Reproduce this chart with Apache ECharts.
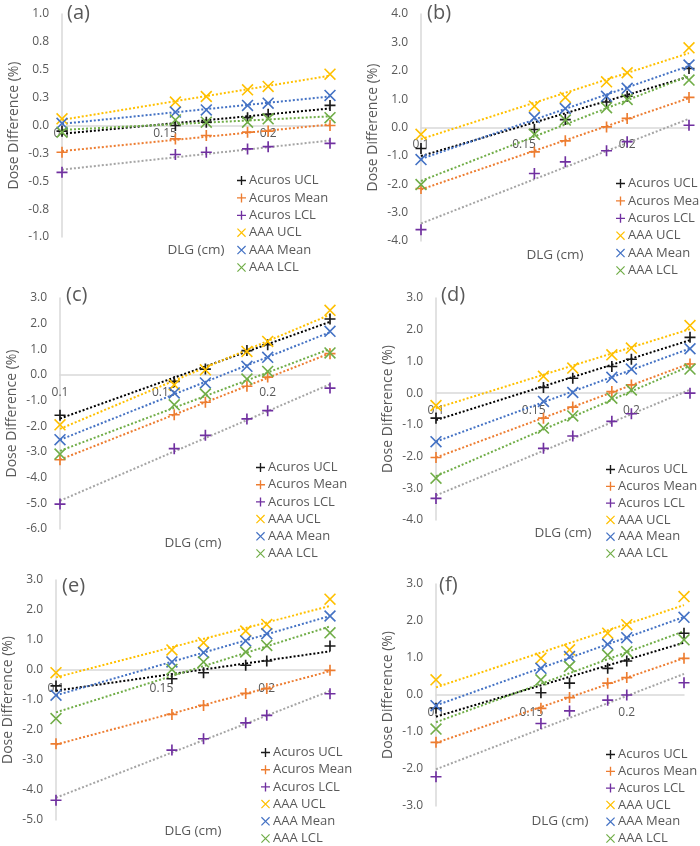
<!DOCTYPE html>
<html><head><meta charset="utf-8">
<script src="https://cdn.jsdelivr.net/npm/echarts@6/dist/echarts.min.js"></script>
<style>html,body{margin:0;padding:0;background:#fff}#c{width:700px;height:846px}</style>
</head><body><div id="c"></div>
<script>
// ---- data ----
const xDLG = [0.1, 0.155, 0.17, 0.19, 0.2, 0.23];
const xTicks = [0.1, 0.15, 0.2];
const seriesNames = ['Acuros UCL', 'Acuros Mean', 'Acuros LCL', 'AAA UCL', 'AAA Mean', 'AAA LCL'];
const panelLabels = ['(a)', '(b)', '(c)', '(d)', '(e)', '(f)'];
const yTitle = 'Dose Difference (%)';
const xTitle = 'DLG (cm)';

const aAcurosUCL  = [-0.05, 0.00, 0.03, 0.07, 0.10, 0.18];
const aAcurosMean = [-0.24, -0.12, -0.09, -0.06, -0.05, 0.00];
const aAcurosLCL  = [-0.42, -0.26, -0.24, -0.21, -0.19, -0.16];
const aAAAUCL     = [0.06, 0.21, 0.26, 0.32, 0.35, 0.46];
const aAAAMean    = [0.02, 0.12, 0.14, 0.18, 0.20, 0.27];
const aAAALCL     = [-0.06, 0.05, 0.03, 0.03, 0.06, 0.07];

const bAcurosUCL  = [-0.74, -0.07, 0.28, 0.90, 1.10, 2.08];
const bAcurosMean = [-2.15, -0.86, -0.47, 0.02, 0.32, 1.06];
const bAcurosLCL  = [-3.60, -1.62, -1.21, -0.82, -0.50, 0.08];
const bAAAUCL     = [-0.24, 0.75, 1.06, 1.61, 1.93, 2.81];
const bAAAMean    = [-1.13, 0.35, 0.67, 1.10, 1.38, 2.20];
const bAAALCL     = [-2.01, -0.24, 0.26, 0.70, 0.99, 1.67];

const cAcurosUCL  = [-1.57, -0.25, 0.23, 0.95, 1.18, 2.18];
const cAcurosMean = [-3.30, -1.55, -1.06, -0.44, -0.08, 0.83];
const cAcurosLCL  = [-5.03, -2.87, -2.35, -1.71, -1.39, -0.51];
const cAAAUCL     = [-1.94, -0.38, 0.20, 0.92, 1.31, 2.52];
const cAAAMean    = [-2.52, -0.70, -0.31, 0.34, 0.69, 1.70];
const cAAALCL     = [-3.08, -1.16, -0.74, -0.16, 0.14, 0.86];

const dAcurosUCL  = [-0.79, 0.18, 0.47, 0.84, 1.07, 1.76];
const dAcurosMean = [-2.03, -0.79, -0.44, 0.05, 0.26, 0.92];
const dAcurosLCL  = [-3.32, -1.74, -1.35, -0.89, -0.65, 0.00];
const dAAAUCL     = [-0.39, 0.53, 0.79, 1.21, 1.42, 2.13];
const dAAAMean    = [-1.53, -0.26, 0.02, 0.50, 0.76, 1.40];
const dAAALCL     = [-2.68, -1.10, -0.72, -0.16, 0.10, 0.76];

const eAcurosUCL  = [-0.53, -0.29, -0.09, 0.16, 0.30, 0.80];
const eAcurosMean = [-2.46, -1.48, -1.18, -0.78, -0.62, -0.01];
const eAcurosLCL  = [-4.34, -2.67, -2.29, -1.76, -1.51, -0.79];
const eAAAUCL     = [-0.09, 0.67, 0.91, 1.30, 1.52, 2.36];
const eAAAMean    = [-0.84, 0.27, 0.58, 0.97, 1.21, 1.80];
const eAAALCL     = [-1.62, 0.02, 0.27, 0.60, 0.82, 1.24];

const fAcurosUCL  = [-0.36, 0.06, 0.32, 0.72, 0.92, 1.67];
const fAcurosMean = [-1.28, -0.36, -0.07, 0.32, 0.47, 0.99];
const fAcurosLCL  = [-2.21, -0.77, -0.43, -0.14, 0.00, 0.33];
const fAAAUCL     = [0.41, 0.99, 1.22, 1.67, 1.90, 2.66];
const fAAAMean    = [-0.29, 0.72, 1.04, 1.37, 1.55, 2.10];
const fAAALCL     = [-0.92, 0.41, 0.77, 1.08, 1.17, 1.49];

// y-axis ranges per panel [min, max, interval]
const yRangeA = [-1, 1, 0.25];
const yRangeB = [-4, 4, 1];
const yRangeC = [-6, 3, 1];
const yRangeD = [-4, 3, 1];
const yRangeE = [-5, 3, 1];
const yRangeF = [-3, 3, 1];
const xMin = 0.1, xMax = 0.23, xInterval = 0.05;

// ---- assembly ----
const panelData = [
  [aAcurosUCL, aAcurosMean, aAcurosLCL, aAAAUCL, aAAAMean, aAAALCL],
  [bAcurosUCL, bAcurosMean, bAcurosLCL, bAAAUCL, bAAAMean, bAAALCL],
  [cAcurosUCL, cAcurosMean, cAcurosLCL, cAAAUCL, cAAAMean, cAAALCL],
  [dAcurosUCL, dAcurosMean, dAcurosLCL, dAAAUCL, dAAAMean, dAAALCL],
  [eAcurosUCL, eAcurosMean, eAcurosLCL, eAAAUCL, eAAAMean, eAAALCL],
  [fAcurosUCL, fAcurosMean, fAcurosLCL, fAAAUCL, fAAAMean, fAAALCL]
];
const yRanges = [yRangeA, yRangeB, yRangeC, yRangeD, yRangeE, yRangeF];

// layout (pixels)
const grids = [
  {left: 62,  top: 14,  width: 268, height: 223},
  {left: 421, top: 14,  width: 268, height: 227},
  {left: 60,  top: 298, width: 270, height: 231},
  {left: 436, top: 298, width: 254, height: 222},
  {left: 56,  top: 580, width: 274, height: 240},
  {left: 436, top: 584, width: 248, height: 222}
];
const titlePos = [[67, 3], [427, 3], [66, 285], [441, 285], [62, 576], [439, 575]];
const xTitlePos = [[196, 250], [555, 255], [193, 543], [563, 533], [193, 831], [560, 821]];
const legendPos = [[237, 174], [616, 177], [256, 461], [606, 463], [261, 746], [606, 748]];
const legendGaps = [4.4, 4.4, 4.2, 3.8, 4.2, 3.8];
const xLabelMargins = [2, 11, 12, 11, 13, 12];

const FONT = '"Open Sans", sans-serif';
const TXT = '#595959';
const AX = '#D9D9D9';
const markerColors = ['#1a1a1a', '#ED7D31', '#7030A0', '#FFC000', '#4472C4', '#70AD47'];
const trendColors  = ['#000000', '#ED7D31', '#A5A5A5', '#FFC000', '#4472C4', '#70AD47'];
const PLUS = 'path://M8.5,0 H11.5 V8.5 H20 V11.5 H11.5 V20 H8.5 V11.5 H0 V8.5 H8.5 Z';
const e = 1.9;
const CROSS = 'path://M0,' + e + ' L' + e + ',0 L20,' + (20 - e) + ' L' + (20 - e) + ',20 Z ' +
              'M' + (20 - e) + ',0 L20,' + e + ' L' + e + ',20 L0,' + (20 - e) + ' Z';

function regression(xs, ys) {
  const n = xs.length;
  let sx = 0, sy = 0, sxx = 0, sxy = 0;
  for (let i = 0; i < n; i++) { sx += xs[i]; sy += ys[i]; sxx += xs[i] * xs[i]; sxy += xs[i] * ys[i]; }
  const b = (n * sxy - sx * sy) / (n * sxx - sx * sx);
  const a = (sy - b * sx) / n;
  return [[xMin, a + b * xMin], [xMax, a + b * xMax]];
}

const option = {
  animation: false,
  backgroundColor: '#fff',
  title: [], grid: [], xAxis: [], yAxis: [], legend: [], series: [], graphic: []
};

panelData.forEach((sets, p) => {
  const g = grids[p];
  const yr = yRanges[p];
  // place the horizontal axis (line + labels) where y = 0 crosses
  const zeroOffset = -g.height * (0 - yr[0]) / (yr[1] - yr[0]);
  option.grid.push({left: g.left, top: g.top, width: g.width, height: g.height, containLabel: false});
  option.title.push({
    text: panelLabels[p], left: titlePos[p][0], top: titlePos[p][1], padding: 0,
    textStyle: {fontFamily: FONT, fontSize: 20, fontWeight: 'normal', color: TXT}
  });
  option.xAxis.push({
    type: 'value', gridIndex: p, min: xMin, max: xMax, interval: xInterval,
    position: 'bottom', offset: zeroOffset,
    axisLine: {onZero: false, lineStyle: {color: AX, width: 1.5}},
    axisTick: {show: false}, splitLine: {show: false},
    axisLabel: {
      color: TXT, fontFamily: FONT, fontSize: 12, margin: xLabelMargins[p], showMaxLabel: false,
      formatter: v => { const t = xTicks.find(k => Math.abs(k - v) < 1e-6); return t === undefined ? '' : String(t); }
    }
  });
  option.yAxis.push({
    type: 'value', gridIndex: p, min: yr[0], max: yr[1], interval: yr[2],
    name: yTitle, nameLocation: 'middle', nameGap: 41,
    nameTextStyle: {color: TXT, fontFamily: FONT, fontSize: 14},
    axisLine: {show: true, onZero: false, lineStyle: {color: AX, width: 1.5}},
    axisTick: {show: false}, splitLine: {show: false},
    axisLabel: {color: TXT, fontFamily: FONT, fontSize: 12, margin: 13, formatter: v => v.toFixed(1)}
  });
  option.legend.push({
    data: seriesNames, orient: 'vertical', left: legendPos[p][0], top: legendPos[p][1],
    height: 110, padding: 0, itemGap: legendGaps[p], itemWidth: 9, itemHeight: 9, selectedMode: false,
    textStyle: {color: TXT, fontFamily: FONT, fontSize: 13, padding: [0, 0, 0, -2]}
  });
  option.graphic.push({
    type: 'text', x: xTitlePos[p][0], y: xTitlePos[p][1], silent: true,
    style: {text: xTitle, fill: TXT, font: '13.5px ' + FONT, textAlign: 'center', verticalAlign: 'middle'}
  });
  sets.forEach((ys, s) => {
    option.series.push({
      type: 'line', name: 'trend ' + p + '-' + s, xAxisIndex: p, yAxisIndex: p,
      data: regression(xDLG, ys), showSymbol: false, silent: true, z: 2,
      lineStyle: {color: trendColors[s], width: 2, type: [2, 2]}
    });
  });
  sets.forEach((ys, s) => {
    option.series.push({
      type: 'scatter', name: seriesNames[s], xAxisIndex: p, yAxisIndex: p,
      data: xDLG.map((x, i) => [x, ys[i]]),
      symbol: s < 3 ? PLUS : CROSS, symbolSize: s < 3 ? 11 : 12, z: 3,
      itemStyle: {color: markerColors[s], opacity: 1}
    });
  });
});

const chart = echarts.init(document.getElementById('c'), null, {renderer: 'canvas'});
chart.setOption(option);
</script></body></html>
